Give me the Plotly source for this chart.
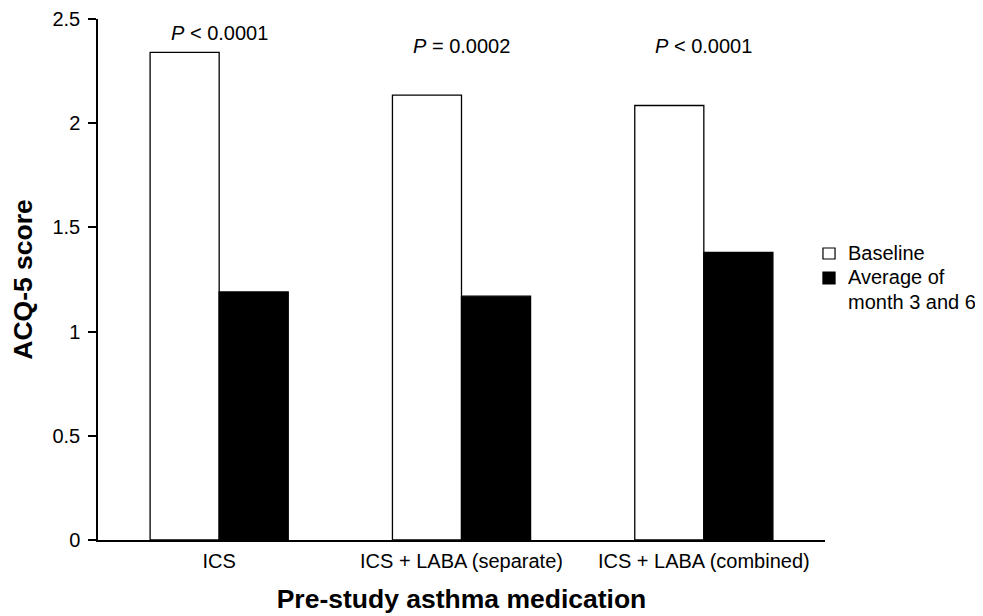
import plotly.graph_objects as go

categories = ["ICS", "ICS + LABA (separate)", "ICS + LABA (combined)"]
baseline = [2.34, 2.135, 2.085]
average_m3_m6 = [1.19, 1.17, 1.38]
p_labels = ["<i>P</i> < 0.0001", "<i>P</i> = 0.0002", "<i>P</i> < 0.0001"]
p_label_y = [2.435, 2.37, 2.37]
series_names = ["Baseline", "Average of month 3 and 6"]
legend_lines = ["Baseline", "Average of", "month 3 and 6"]
legend_fills = ["white", "black"]

FONT = "Liberation Sans, Arial, sans-serif"

fig = go.Figure()
fig.add_trace(go.Bar(
    x=categories, y=baseline, name=series_names[0], showlegend=False,
    marker=dict(color="white", line=dict(color="black", width=1.3)),
))
fig.add_trace(go.Bar(
    x=categories, y=average_m3_m6, name=series_names[1], showlegend=False,
    marker=dict(color="black", line=dict(color="black", width=1.3)),
))

for c, t, yv in zip(categories, p_labels, p_label_y):
    fig.add_annotation(x=c, y=yv, text=t, showarrow=False, yanchor="middle",
                       font=dict(size=20, color="black", family=FONT))

# legend drawn as swatches + text lines
sw_y = [(0.5393, 0.5605), (0.4914, 0.5144)]
for fill, (y0, y1) in zip(legend_fills, sw_y):
    fig.add_shape(type="rect", xref="paper", yref="paper",
                  x0=0.9972, x1=1.0138, y0=y0, y1=y1,
                  fillcolor=fill, line=dict(color="black", width=1.2))
leg_y = [0.550, 0.504, 0.456]
for line, yv in zip(legend_lines, leg_y):
    fig.add_annotation(xref="paper", yref="paper", x=1.029, y=yv, text=line,
                       showarrow=False, xanchor="left", yanchor="middle",
                       font=dict(size=20, color="black", family=FONT))

fig.update_layout(
    width=975, height=608,
    paper_bgcolor="white", plot_bgcolor="white",
    margin=dict(l=90, r=158, t=11, b=76),
    barmode="group", bargap=0.43, bargroupgap=0,
    font=dict(family=FONT, size=20, color="black"),
    showlegend=False,
    xaxis=dict(
        showline=True, linecolor="black", linewidth=1.5,
        ticks="", showgrid=False, zeroline=False, automargin=False,
        range=[-0.5, 2.5],
        tickfont=dict(size=20), ticklabelstandoff=2,
        title=dict(text="<b>Pre-study asthma medication</b>", font=dict(size=26.5), standoff=19),
    ),
    yaxis=dict(
        range=[0, 2.5], tickvals=[0, 0.5, 1, 1.5, 2, 2.5],
        ticktext=["0", "0.5", "1", "1.5", "2", "2.5"],
        showline=True, linecolor="black", linewidth=1.5, automargin=False,
        ticks="outside", ticklen=8, tickwidth=1.5, tickcolor="black",
        showgrid=False, zeroline=False,
        tickfont=dict(size=20), ticklabelstandoff=4,
        title=dict(text="<b>ACQ-5 score</b>", font=dict(size=26.5), standoff=16),
    ),
)

fig.write_html("out.html")
